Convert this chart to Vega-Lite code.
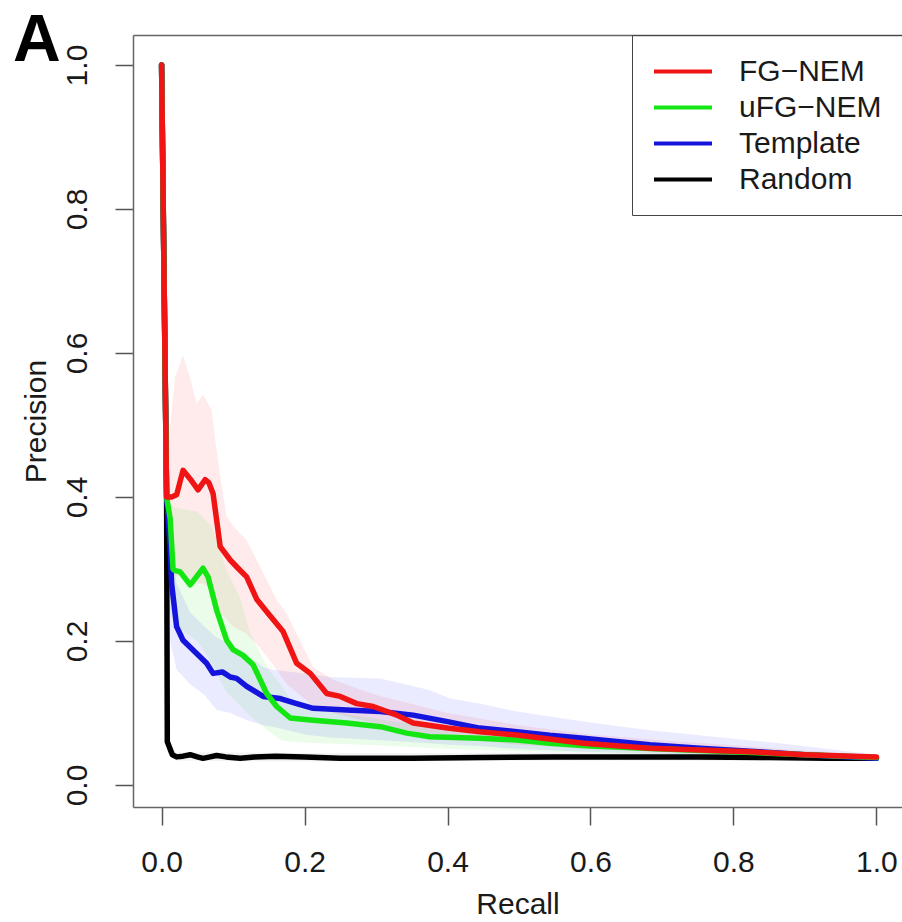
{
  "$schema": "https://vega.github.io/schema/vega-lite/v6.json",
  "width": 769,
  "height": 772,
  "autosize": {"type": "none"},
  "padding": {"left": 133, "top": 35, "right": 0, "bottom": 115},
  "background": "white",
  "title": {"text": "A", "fontSize": 66, "fontWeight": "bold", "font": "Liberation Sans", "anchor": "start", "frame": "group", "orient": "top", "offset": 0, "baseline": "alphabetic", "dx": -120, "dy": 92, "color": "#000000"},
  "config": {
    "font": "Liberation Sans",
    "view": {"stroke": null},
    "axis": {"grid": false, "domainColor": "#666666", "domainWidth": 1.5, "tickColor": "#555555", "tickWidth": 1.5, "tickSize": 18, "labelFontSize": 30, "labelColor": "#1a1a1a", "titleFontSize": 30, "titleFontWeight": "normal", "titleColor": "#1a1a1a", "labelFlush": false, "labelOverlap": false, "labelBound": false},
    "legend": {"labelFontSize": 30, "labelColor": "#1a1a1a"}
  },
  "datasets": {
    "bands": [
      {"s": "FG−NEM", "x": 0.007, "lo": 0.40, "hi": 0.42},
      {"s": "FG−NEM", "x": 0.012, "lo": 0.30, "hi": 0.50},
      {"s": "FG−NEM", "x": 0.019, "lo": 0.29, "hi": 0.567},
      {"s": "FG−NEM", "x": 0.030, "lo": 0.29, "hi": 0.597},
      {"s": "FG−NEM", "x": 0.040, "lo": 0.285, "hi": 0.565},
      {"s": "FG−NEM", "x": 0.049, "lo": 0.28, "hi": 0.530},
      {"s": "FG−NEM", "x": 0.058, "lo": 0.28, "hi": 0.542},
      {"s": "FG−NEM", "x": 0.070, "lo": 0.27, "hi": 0.521},
      {"s": "FG−NEM", "x": 0.075, "lo": 0.26, "hi": 0.479},
      {"s": "FG−NEM", "x": 0.082, "lo": 0.24, "hi": 0.43},
      {"s": "FG−NEM", "x": 0.091, "lo": 0.23, "hi": 0.373},
      {"s": "FG−NEM", "x": 0.100, "lo": 0.22, "hi": 0.36},
      {"s": "FG−NEM", "x": 0.119, "lo": 0.21, "hi": 0.34},
      {"s": "FG−NEM", "x": 0.138, "lo": 0.19, "hi": 0.303},
      {"s": "FG−NEM", "x": 0.161, "lo": 0.16, "hi": 0.257},
      {"s": "FG−NEM", "x": 0.175, "lo": 0.14, "hi": 0.238},
      {"s": "FG−NEM", "x": 0.212, "lo": 0.11, "hi": 0.164},
      {"s": "FG−NEM", "x": 0.240, "lo": 0.10, "hi": 0.146},
      {"s": "FG−NEM", "x": 0.300, "lo": 0.085, "hi": 0.125},
      {"s": "FG−NEM", "x": 0.400, "lo": 0.065, "hi": 0.10},
      {"s": "FG−NEM", "x": 0.500, "lo": 0.056, "hi": 0.083},
      {"s": "FG−NEM", "x": 0.600, "lo": 0.050, "hi": 0.07},
      {"s": "FG−NEM", "x": 0.700, "lo": 0.046, "hi": 0.062},
      {"s": "FG−NEM", "x": 0.800, "lo": 0.043, "hi": 0.055},
      {"s": "FG−NEM", "x": 0.900, "lo": 0.040, "hi": 0.048},
      {"s": "FG−NEM", "x": 1.000, "lo": 0.037, "hi": 0.042},
      {"s": "uFG−NEM", "x": 0.007, "lo": 0.40, "hi": 0.40},
      {"s": "uFG−NEM", "x": 0.012, "lo": 0.24, "hi": 0.39},
      {"s": "uFG−NEM", "x": 0.020, "lo": 0.22, "hi": 0.385},
      {"s": "uFG−NEM", "x": 0.050, "lo": 0.20, "hi": 0.38},
      {"s": "uFG−NEM", "x": 0.070, "lo": 0.17, "hi": 0.36},
      {"s": "uFG−NEM", "x": 0.090, "lo": 0.13, "hi": 0.30},
      {"s": "uFG−NEM", "x": 0.110, "lo": 0.11, "hi": 0.26},
      {"s": "uFG−NEM", "x": 0.124, "lo": 0.095, "hi": 0.21},
      {"s": "uFG−NEM", "x": 0.150, "lo": 0.075, "hi": 0.16},
      {"s": "uFG−NEM", "x": 0.166, "lo": 0.0625, "hi": 0.14},
      {"s": "uFG−NEM", "x": 0.180, "lo": 0.06, "hi": 0.12},
      {"s": "uFG−NEM", "x": 0.220, "lo": 0.058, "hi": 0.105},
      {"s": "uFG−NEM", "x": 0.300, "lo": 0.055, "hi": 0.092},
      {"s": "uFG−NEM", "x": 0.400, "lo": 0.050, "hi": 0.078},
      {"s": "uFG−NEM", "x": 0.500, "lo": 0.047, "hi": 0.068},
      {"s": "uFG−NEM", "x": 0.600, "lo": 0.045, "hi": 0.062},
      {"s": "uFG−NEM", "x": 0.800, "lo": 0.040, "hi": 0.052},
      {"s": "uFG−NEM", "x": 1.000, "lo": 0.036, "hi": 0.041},
      {"s": "Template", "x": 0.007, "lo": 0.40, "hi": 0.40},
      {"s": "Template", "x": 0.012, "lo": 0.20, "hi": 0.35},
      {"s": "Template", "x": 0.021, "lo": 0.16, "hi": 0.28},
      {"s": "Template", "x": 0.040, "lo": 0.14, "hi": 0.24},
      {"s": "Template", "x": 0.060, "lo": 0.125, "hi": 0.22},
      {"s": "Template", "x": 0.077, "lo": 0.104, "hi": 0.205},
      {"s": "Template", "x": 0.096, "lo": 0.100, "hi": 0.195},
      {"s": "Template", "x": 0.120, "lo": 0.090, "hi": 0.18},
      {"s": "Template", "x": 0.142, "lo": 0.083, "hi": 0.164},
      {"s": "Template", "x": 0.156, "lo": 0.081, "hi": 0.16},
      {"s": "Template", "x": 0.200, "lo": 0.070, "hi": 0.155},
      {"s": "Template", "x": 0.236, "lo": 0.066, "hi": 0.15},
      {"s": "Template", "x": 0.306, "lo": 0.062, "hi": 0.148},
      {"s": "Template", "x": 0.375, "lo": 0.058, "hi": 0.132},
      {"s": "Template", "x": 0.4035, "lo": 0.056, "hi": 0.12},
      {"s": "Template", "x": 0.445, "lo": 0.054, "hi": 0.113},
      {"s": "Template", "x": 0.497, "lo": 0.050, "hi": 0.102},
      {"s": "Template", "x": 0.590, "lo": 0.046, "hi": 0.088},
      {"s": "Template", "x": 0.683, "lo": 0.044, "hi": 0.076},
      {"s": "Template", "x": 0.753, "lo": 0.042, "hi": 0.069},
      {"s": "Template", "x": 0.865, "lo": 0.039, "hi": 0.058},
      {"s": "Template", "x": 1.000, "lo": 0.034, "hi": 0.042},
      {"s": "Random", "x": 0.008, "lo": 0.045, "hi": 0.07},
      {"s": "Random", "x": 0.020, "lo": 0.034, "hi": 0.045},
      {"s": "Random", "x": 0.100, "lo": 0.033, "hi": 0.045},
      {"s": "Random", "x": 0.300, "lo": 0.033, "hi": 0.044},
      {"s": "Random", "x": 0.600, "lo": 0.034, "hi": 0.045},
      {"s": "Random", "x": 1.000, "lo": 0.033, "hi": 0.042}
    ],
    "lines": [
      {"s": "Random", "x": 0.0, "y": 1.0},
      {"s": "Random", "x": 0.007, "y": 0.40},
      {"s": "Random", "x": 0.008, "y": 0.06},
      {"s": "Random", "x": 0.015, "y": 0.042},
      {"s": "Random", "x": 0.021, "y": 0.039},
      {"s": "Random", "x": 0.030, "y": 0.040},
      {"s": "Random", "x": 0.040, "y": 0.042},
      {"s": "Random", "x": 0.050, "y": 0.039},
      {"s": "Random", "x": 0.058, "y": 0.037},
      {"s": "Random", "x": 0.068, "y": 0.039},
      {"s": "Random", "x": 0.077, "y": 0.041},
      {"s": "Random", "x": 0.090, "y": 0.039},
      {"s": "Random", "x": 0.110, "y": 0.037},
      {"s": "Random", "x": 0.130, "y": 0.039},
      {"s": "Random", "x": 0.160, "y": 0.040},
      {"s": "Random", "x": 0.200, "y": 0.039},
      {"s": "Random", "x": 0.250, "y": 0.037},
      {"s": "Random", "x": 0.350, "y": 0.037},
      {"s": "Random", "x": 0.450, "y": 0.038},
      {"s": "Random", "x": 0.550, "y": 0.039},
      {"s": "Random", "x": 0.650, "y": 0.039},
      {"s": "Random", "x": 0.750, "y": 0.039},
      {"s": "Random", "x": 0.850, "y": 0.038},
      {"s": "Random", "x": 0.930, "y": 0.037},
      {"s": "Random", "x": 1.000, "y": 0.037},
      {"s": "Template", "x": 0.0, "y": 1.0},
      {"s": "Template", "x": 0.007, "y": 0.40},
      {"s": "Template", "x": 0.012, "y": 0.33},
      {"s": "Template", "x": 0.014, "y": 0.28},
      {"s": "Template", "x": 0.021, "y": 0.22},
      {"s": "Template", "x": 0.030, "y": 0.201},
      {"s": "Template", "x": 0.044, "y": 0.1875},
      {"s": "Template", "x": 0.063, "y": 0.169},
      {"s": "Template", "x": 0.072, "y": 0.155},
      {"s": "Template", "x": 0.085, "y": 0.157},
      {"s": "Template", "x": 0.096, "y": 0.150},
      {"s": "Template", "x": 0.105, "y": 0.148},
      {"s": "Template", "x": 0.119, "y": 0.137},
      {"s": "Template", "x": 0.142, "y": 0.123},
      {"s": "Template", "x": 0.166, "y": 0.120},
      {"s": "Template", "x": 0.189, "y": 0.113},
      {"s": "Template", "x": 0.212, "y": 0.1065},
      {"s": "Template", "x": 0.259, "y": 0.104},
      {"s": "Template", "x": 0.306, "y": 0.102},
      {"s": "Template", "x": 0.352, "y": 0.097},
      {"s": "Template", "x": 0.400, "y": 0.088},
      {"s": "Template", "x": 0.445, "y": 0.079},
      {"s": "Template", "x": 0.497, "y": 0.074},
      {"s": "Template", "x": 0.543, "y": 0.069},
      {"s": "Template", "x": 0.590, "y": 0.065},
      {"s": "Template", "x": 0.683, "y": 0.056},
      {"s": "Template", "x": 0.753, "y": 0.051},
      {"s": "Template", "x": 0.823, "y": 0.047},
      {"s": "Template", "x": 0.900, "y": 0.042},
      {"s": "Template", "x": 1.000, "y": 0.037},
      {"s": "uFG−NEM", "x": 0.0, "y": 1.0},
      {"s": "uFG−NEM", "x": 0.007, "y": 0.40},
      {"s": "uFG−NEM", "x": 0.012, "y": 0.37},
      {"s": "uFG−NEM", "x": 0.016, "y": 0.30},
      {"s": "uFG−NEM", "x": 0.018, "y": 0.298},
      {"s": "uFG−NEM", "x": 0.026, "y": 0.296},
      {"s": "uFG−NEM", "x": 0.040, "y": 0.278},
      {"s": "uFG−NEM", "x": 0.058, "y": 0.301},
      {"s": "uFG−NEM", "x": 0.065, "y": 0.289},
      {"s": "uFG−NEM", "x": 0.077, "y": 0.243},
      {"s": "uFG−NEM", "x": 0.091, "y": 0.201},
      {"s": "uFG−NEM", "x": 0.100, "y": 0.188},
      {"s": "uFG−NEM", "x": 0.114, "y": 0.180},
      {"s": "uFG−NEM", "x": 0.128, "y": 0.167},
      {"s": "uFG−NEM", "x": 0.147, "y": 0.127},
      {"s": "uFG−NEM", "x": 0.161, "y": 0.109},
      {"s": "uFG−NEM", "x": 0.180, "y": 0.093},
      {"s": "uFG−NEM", "x": 0.212, "y": 0.090},
      {"s": "uFG−NEM", "x": 0.259, "y": 0.086},
      {"s": "uFG−NEM", "x": 0.306, "y": 0.081},
      {"s": "uFG−NEM", "x": 0.343, "y": 0.072},
      {"s": "uFG−NEM", "x": 0.375, "y": 0.067},
      {"s": "uFG−NEM", "x": 0.445, "y": 0.065},
      {"s": "uFG−NEM", "x": 0.497, "y": 0.0625},
      {"s": "uFG−NEM", "x": 0.543, "y": 0.058},
      {"s": "uFG−NEM", "x": 0.600, "y": 0.054},
      {"s": "uFG−NEM", "x": 0.700, "y": 0.050},
      {"s": "uFG−NEM", "x": 0.800, "y": 0.046},
      {"s": "uFG−NEM", "x": 0.900, "y": 0.042},
      {"s": "uFG−NEM", "x": 1.000, "y": 0.038},
      {"s": "FG−NEM", "x": 0.0, "y": 1.0},
      {"s": "FG−NEM", "x": 0.007, "y": 0.40},
      {"s": "FG−NEM", "x": 0.014, "y": 0.40},
      {"s": "FG−NEM", "x": 0.021, "y": 0.403},
      {"s": "FG−NEM", "x": 0.030, "y": 0.437},
      {"s": "FG−NEM", "x": 0.040, "y": 0.425},
      {"s": "FG−NEM", "x": 0.051, "y": 0.410},
      {"s": "FG−NEM", "x": 0.061, "y": 0.424},
      {"s": "FG−NEM", "x": 0.066, "y": 0.420},
      {"s": "FG−NEM", "x": 0.072, "y": 0.405},
      {"s": "FG−NEM", "x": 0.082, "y": 0.331},
      {"s": "FG−NEM", "x": 0.096, "y": 0.3125},
      {"s": "FG−NEM", "x": 0.108, "y": 0.300},
      {"s": "FG−NEM", "x": 0.119, "y": 0.289},
      {"s": "FG−NEM", "x": 0.133, "y": 0.258},
      {"s": "FG−NEM", "x": 0.150, "y": 0.237},
      {"s": "FG−NEM", "x": 0.170, "y": 0.213},
      {"s": "FG−NEM", "x": 0.189, "y": 0.169},
      {"s": "FG−NEM", "x": 0.208, "y": 0.155},
      {"s": "FG−NEM", "x": 0.231, "y": 0.127},
      {"s": "FG−NEM", "x": 0.250, "y": 0.123},
      {"s": "FG−NEM", "x": 0.273, "y": 0.113},
      {"s": "FG−NEM", "x": 0.296, "y": 0.109},
      {"s": "FG−NEM", "x": 0.329, "y": 0.097},
      {"s": "FG−NEM", "x": 0.352, "y": 0.086},
      {"s": "FG−NEM", "x": 0.400, "y": 0.079},
      {"s": "FG−NEM", "x": 0.445, "y": 0.074},
      {"s": "FG−NEM", "x": 0.497, "y": 0.0694},
      {"s": "FG−NEM", "x": 0.590, "y": 0.058},
      {"s": "FG−NEM", "x": 0.683, "y": 0.051},
      {"s": "FG−NEM", "x": 0.753, "y": 0.0486},
      {"s": "FG−NEM", "x": 0.823, "y": 0.046},
      {"s": "FG−NEM", "x": 0.900, "y": 0.042},
      {"s": "FG−NEM", "x": 1.000, "y": 0.039}
    ]
  },
  "encoding": {
    "x": {"field": "x", "type": "quantitative", "scale": {"domain": [-0.04, 1.0358], "nice": false, "zero": false}, "axis": null},
    "y": {"type": "quantitative", "scale": {"domain": [-0.0306, 1.0417], "nice": false, "zero": false}}
  },
  "resolve": {"axis": {"x": "independent"}},
  "layer": [
    {
      "data": {"name": "bands"},
      "transform": [{"filter": "datum.s === 'FG−NEM'"}],
      "mark": {"type": "area", "color": "#ff0000", "fillOpacity": 0.08, "strokeOpacity": 0.18, "strokeWidth": 1},
      "encoding": {
        "x": {"field": "x", "type": "quantitative", "axis": {"orient": "top", "labels": false, "ticks": false, "title": null, "domain": true}},
        "y": {"field": "lo", "type": "quantitative", "axis": {"values": [0, 0.2, 0.4, 0.6, 0.8, 1.0], "format": ".1f", "labelAngle": -90, "labelAlign": "center", "labelBaseline": "bottom", "labelPadding": 23, "title": "Precision", "titlePadding": 11}},
        "y2": {"field": "hi"}
      }
    },
    {
      "data": {"name": "bands"},
      "transform": [{"filter": "datum.s === 'uFG−NEM'"}],
      "mark": {"type": "area", "color": "#00dd00", "fillOpacity": 0.08, "strokeOpacity": 0.18, "strokeWidth": 1},
      "encoding": {
        "y": {"field": "lo", "type": "quantitative"},
        "y2": {"field": "hi"}
      }
    },
    {
      "data": {"name": "bands"},
      "transform": [{"filter": "datum.s === 'Template'"}],
      "mark": {"type": "area", "color": "#0000ff", "fillOpacity": 0.08, "strokeOpacity": 0.18, "strokeWidth": 1},
      "encoding": {
        "y": {"field": "lo", "type": "quantitative"},
        "y2": {"field": "hi"}
      }
    },
    {
      "data": {"name": "bands"},
      "transform": [{"filter": "datum.s === 'Random'"}],
      "mark": {"type": "area", "color": "#555555", "fillOpacity": 0.08, "strokeOpacity": 0.18, "strokeWidth": 1},
      "encoding": {
        "y": {"field": "lo", "type": "quantitative"},
        "y2": {"field": "hi"}
      }
    },
    {
      "data": {"name": "lines"},
      "mark": {"type": "line", "strokeWidth": 5.5, "strokeCap": "round", "strokeJoin": "round"},
      "encoding": {
        "x": {"field": "x", "type": "quantitative", "axis": {"orient": "bottom", "values": [0, 0.2, 0.4, 0.6, 0.8, 1.0], "format": ".1f", "labelPadding": 22, "title": "Recall", "titlePadding": 12}},
        "y": {"field": "y", "type": "quantitative"},
        "color": {"field": "s", "type": "nominal",
                  "scale": {"domain": ["FG−NEM", "uFG−NEM", "Template", "Random"], "range": ["#f01414", "#14e614", "#1414dc", "#000000"]},
                  "legend": {"title": null, "orient": "top-right", "offset": 0, "strokeColor": "#444444", "padding": 20,
                             "symbolType": "M-1,0H3", "symbolSize": 841, "symbolStrokeWidth": 4, "labelOffset": 54, "rowPadding": 4, "labelFontSize": 30}}
      }
    }
  ]
}
